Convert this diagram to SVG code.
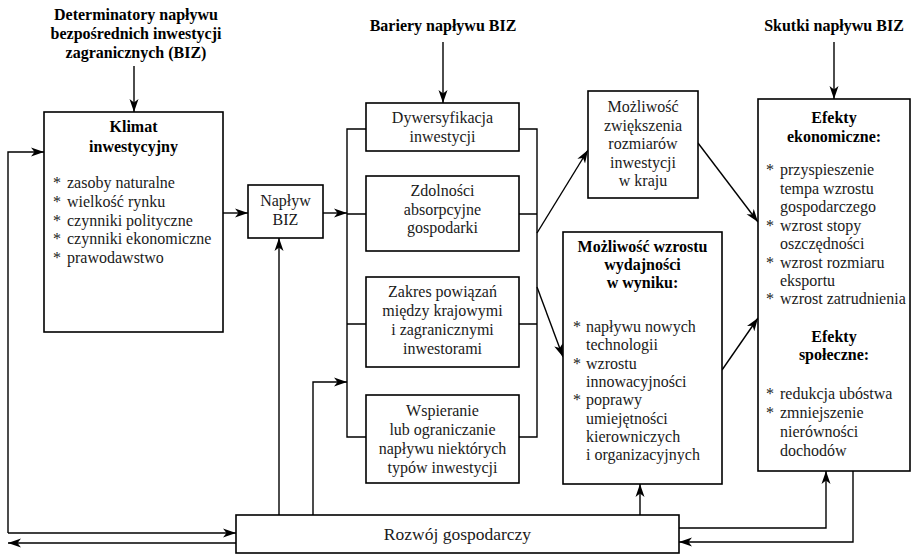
<svg xmlns="http://www.w3.org/2000/svg" width="911" height="555" viewBox="0 0 911 555" font-family="'Liberation Serif', 'DejaVu Serif', serif">
<defs>
<marker id="ah" markerWidth="14" markerHeight="10" refX="13" refY="5" orient="auto" markerUnits="userSpaceOnUse"><path d="M0,0.5 L13,5 L0,9.5 L3.5,5 z" fill="#000"/></marker>
<style>
.box{fill:#fff;stroke:#000;stroke-width:1.6}
.ln{fill:none;stroke:#000;stroke-width:1.4}
.ar{fill:none;stroke:#000;stroke-width:1.4;marker-end:url(#ah)}
text{font-family:'Liberation Serif','DejaVu Serif',serif;font-size:16px;fill:#1a1a1a}
.b{font-weight:bold;fill:#000}
.c{text-anchor:middle}
.big{font-size:17.5px}
</style>
</defs>
<rect width="911" height="555" fill="#fff"/>

<g id="headers">
<text class="b c" x="136" y="20">Determinatory napływu</text>
<text class="b c" x="136" y="39">bezpośrednich inwestycji</text>
<text class="b c" x="136" y="58">zagranicznych (BIZ)</text>
<text class="b c" x="443" y="31">Bariery napływu BIZ</text>
<text class="b c" x="834" y="31">Skutki napływu BIZ</text>
</g>

<g id="connectors">
<line class="ar" x1="134" y1="66" x2="134" y2="112"/>
<line class="ar" x1="443" y1="42" x2="443" y2="103"/>
<line class="ar" x1="834" y1="42" x2="834" y2="99"/>
<line class="ar" x1="223" y1="213" x2="248" y2="213"/>
<line class="ar" x1="323" y1="213" x2="347" y2="213"/>
<path class="ln" d="M366,129 H347 V437 H366 M347,214 H366 M347,324 H366"/>
<path class="ln" d="M519,129 H537 V437 H519 M537,214 H519 M537,324 H519"/>
<line class="ar" x1="537" y1="233" x2="588" y2="150"/>
<line class="ar" x1="537" y1="287" x2="563" y2="357"/>
<line class="ar" x1="698" y1="143" x2="758" y2="222"/>
<line class="ar" x1="722" y1="370" x2="758" y2="318"/>
<path class="ar" d="M8,533 V152 H44"/>
<line class="ar" x1="8" y1="533" x2="236" y2="533"/>
<line class="ar" x1="236" y1="543" x2="8" y2="543"/>
<line class="ar" x1="279" y1="515" x2="279" y2="238"/>
<path class="ar" d="M313,515 V382 H347"/>
<line class="ar" x1="640" y1="515" x2="640" y2="484"/>
<path class="ar" d="M679,528 H826 V471"/>
<path class="ar" d="M853,471 V542 H679"/>
</g>

<g id="klimat">
<rect class="box" x="44" y="112" width="179" height="220"/>
<text class="b c" x="133.5" y="132">Klimat</text>
<text class="b c" x="133.5" y="152">inwestycyjny</text>
<text x="53" y="188">*</text><text x="67" y="188">zasoby naturalne</text>
<text x="53" y="207">*</text><text x="67" y="207">wielkość rynku</text>
<text x="53" y="225.5">*</text><text x="67" y="225.5">czynniki polityczne</text>
<text x="53" y="244">*</text><text x="67" y="244">czynniki ekonomiczne</text>
<text x="53" y="263">*</text><text x="67" y="263">prawodawstwo</text>
</g>

<g id="naplyw">
<rect class="box" x="248" y="185" width="75" height="53"/>
<text class="c" x="285.5" y="206">Napływ</text>
<text class="c" x="285.5" y="225">BIZ</text>
</g>

<g id="dywersyfikacja">
<rect class="box" x="366" y="103" width="153" height="48"/>
<text class="c" x="442.5" y="123">Dywersyfikacja</text>
<text class="c" x="442.5" y="142">inwestycji</text>
</g>

<g id="zdolnosci">
<rect class="box" x="366" y="176" width="153" height="75"/>
<text class="c" x="442.5" y="196">Zdolności</text>
<text class="c" x="442.5" y="214.5">absorpcyjne</text>
<text class="c" x="442.5" y="233">gospodarki</text>
</g>

<g id="zakres">
<rect class="box" x="366" y="277" width="153" height="90"/>
<text class="c" x="442.5" y="297">Zakres powiązań</text>
<text class="c" x="442.5" y="316">między krajowymi</text>
<text class="c" x="442.5" y="335">i zagranicznymi</text>
<text class="c" x="442.5" y="354">inwestorami</text>
</g>

<g id="wspieranie">
<rect class="box" x="366" y="395" width="153" height="88"/>
<text class="c" x="442.5" y="416">Wspieranie</text>
<text class="c" x="442.5" y="435">lub ograniczanie</text>
<text class="c" x="442.5" y="454">napływu niektórych</text>
<text class="c" x="442.5" y="473">typów inwestycji</text>
</g>

<g id="zwiekszenie">
<rect class="box" x="588" y="91" width="110" height="107"/>
<text class="c" x="643" y="112">Możliwość</text>
<text class="c" x="643" y="130.5">zwiększenia</text>
<text class="c" x="643" y="149">rozmiarów</text>
<text class="c" x="643" y="167.5">inwestycji</text>
<text class="c" x="643" y="186">w kraju</text>
</g>

<g id="wydajnosc">
<rect class="box" x="563" y="232" width="159" height="252"/>
<text class="b c" x="642.5" y="252">Możliwość wzrostu</text>
<text class="b c" x="642.5" y="270">wydajności</text>
<text class="b c" x="642.5" y="288">w wyniku:</text>
<text x="573" y="332">*</text><text x="586" y="332">napływu nowych</text>
<text x="586" y="350">technologii</text>
<text x="573" y="368.5">*</text><text x="586" y="368.5">wzrostu</text>
<text x="586" y="387">innowacyjności</text>
<text x="573" y="405">*</text><text x="586" y="405">poprawy</text>
<text x="586" y="423.5">umiejętności</text>
<text x="586" y="442">kierowniczych</text>
<text x="586" y="460">i organizacyjnych</text>
</g>

<g id="efekty">
<rect class="box" x="758" y="99" width="152" height="372"/>
<text class="b c" x="834" y="123">Efekty</text>
<text class="b c" x="834" y="142">ekonomiczne:</text>
<text x="766" y="175">*</text><text x="780" y="175">przyspieszenie</text>
<text x="780" y="194">tempa wzrostu</text>
<text x="780" y="212">gospodarczego</text>
<text x="766" y="231">*</text><text x="780" y="231">wzrost stopy</text>
<text x="780" y="249">oszczędności</text>
<text x="766" y="267.5">*</text><text x="780" y="267.5">wzrost rozmiaru</text>
<text x="780" y="286">eksportu</text>
<text x="766" y="304">*</text><text x="780" y="304">wzrost zatrudnienia</text>
<text class="b c" x="834" y="342">Efekty</text>
<text class="b c" x="834" y="360">społeczne:</text>
<text x="766" y="399">*</text><text x="780" y="399">redukcja ubóstwa</text>
<text x="766" y="418">*</text><text x="780" y="418">zmniejszenie</text>
<text x="780" y="437">nierówności</text>
<text x="780" y="456">dochodów</text>
</g>

<g id="rozwoj">
<rect class="box" x="236" y="515" width="443" height="38"/>
<text class="c big" x="457.5" y="540">Rozwój gospodarczy</text>
</g>
</svg>
